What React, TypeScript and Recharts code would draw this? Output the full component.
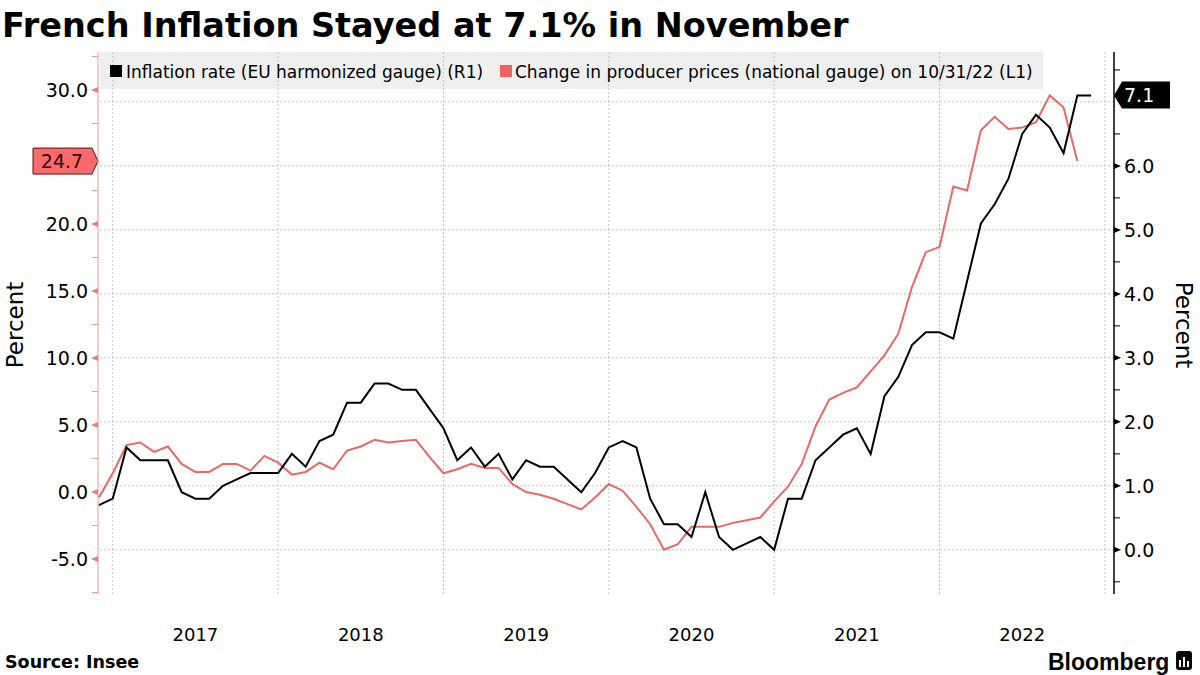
import React from "react";
import { LineChart, Line, XAxis, YAxis, ReferenceLine } from "recharts";

// monthly data, month-end points, Nov 2016 .. Nov 2022
const START_YEAR = 2016;
const START_MONTH = 11;

// EU harmonized inflation rate, % (right axis)
const inflation = [
  0.7, 0.8, 1.6, 1.4, 1.4, 1.4, 0.9, 0.8, 0.8, 1.0, 1.1, 1.2,
  1.2, 1.2, 1.5, 1.3, 1.7, 1.8, 2.3, 2.3, 2.6, 2.6, 2.5, 2.5,
  2.2, 1.9, 1.4, 1.6, 1.3, 1.5, 1.1, 1.4, 1.3, 1.3, 1.1, 0.9,
  1.2, 1.6, 1.7, 1.6, 0.8, 0.4, 0.4, 0.2, 0.9, 0.2, 0.0, 0.1,
  0.2, 0.0, 0.8, 0.8, 1.4, 1.6, 1.8, 1.9, 1.5, 2.4, 2.7, 3.2,
  3.4, 3.4, 3.3, 4.2, 5.1, 5.4, 5.8, 6.5, 6.8, 6.6, 6.2, 7.1,
  7.1,
];

// change in producer prices, % (left axis), last reading 10/31/22
const producer = [
  -0.4, 1.4, 3.5, 3.7, 3.0, 3.4, 2.1, 1.5, 1.5, 2.1, 2.1, 1.6,
  2.7, 2.2, 1.3, 1.5, 2.2, 1.7, 3.1, 3.4, 3.9, 3.7, 3.8, 3.9,
  2.6, 1.4, 1.7, 2.1, 1.8, 1.8, 0.6, 0.0, -0.2, -0.5, -0.9, -1.3,
  -0.4, 0.6, 0.1, -1.1, -2.4, -4.3, -3.9, -2.6, -2.6, -2.6, -2.3, -2.1,
  -1.9, -0.7, 0.4, 2.1, 4.9, 6.9, 7.4, 7.8, 9.0, 10.2, 11.8, 15.3,
  17.9, 18.3, 22.8, 22.5, 27.0, 28.0, 27.1, 27.2, 27.6, 29.6, 28.7, 24.7,
];

const years = [2017, 2018, 2019, 2020, 2021, 2022];
const leftTicks = [-7.5, -5, -2.5, 0, 2.5, 5, 7.5, 10, 12.5, 15, 17.5, 20, 22.5, 25, 27.5, 30, 32.5];
const rightTicks = [-0.5, 0, 0.5, 1, 1.5, 2, 2.5, 3, 3.5, 4, 4.5, 5, 5.5, 6, 6.5, 7, 7.5];
const rightGrid = [0, 1, 2, 3, 4, 5, 6, 7];

const lastProducer = producer[producer.length - 1];
const lastInflation = inflation[inflation.length - 1];

const monthIndex = (y: number, m: number) => (y - START_YEAR) * 12 + (m - START_MONTH);
const months = inflation.map((_, i) => {
  const t = START_MONTH - 1 + i;
  const y = START_YEAR + Math.floor(t / 12);
  const m = (t % 12) + 1;
  return `${y}-${String(m).padStart(2, "0")}`;
});

const data = months.map((month, i) => ({
  i,
  month,
  inflation: inflation[i],
  producer: i < producer.length ? producer[i] : null,
}));

const yearMid = years.map((y) => monthIndex(y, 6));
const yearEdges = [...years.map((y) => monthIndex(y - 1, 12)), monthIndex(2022, 12)];

const RED = "#e8686a";
const GRID = "#c4c4c4";
const FONT = "'DejaVu Sans', Verdana, sans-serif";

function LeftTick({ x, y, payload }: any) {
  const v = payload.value as number;
  const major = Math.abs(v % 5) < 1e-6;
  // the value badge hides whatever sits under it
  if (Math.abs(v - lastProducer) < 1.5) return <g />;
  if (!major) return <line x1={x - 6} x2={x} y1={y} y2={y} stroke="#eb9a9a" strokeWidth={1} />;
  return (
    <g>
      <polygon points={`${x},${y - 3} ${x},${y + 3} ${x - 7},${y}`} fill="#e87c7e" />
      <text x={x - 10} y={y} dy="0.36em" textAnchor="end" fontSize={19} fontFamily={FONT} fill="#000">
        {v.toFixed(1)}
      </text>
    </g>
  );
}

function RightTick({ x, y, payload }: any) {
  const v = payload.value as number;
  const major = Math.abs(v % 1) < 1e-6;
  if (major && Math.abs(v - lastInflation) < 0.3) return <g />;
  if (!major) return <line x1={x} x2={x + 6} y1={y} y2={y} stroke="#000" strokeWidth={1} />;
  return (
    <g>
      <polygon points={`${x},${y - 3} ${x},${y + 3} ${x + 7},${y}`} fill="#000" />
      <text x={x + 10} y={y} dy="0.36em" textAnchor="start" fontSize={19} fontFamily={FONT} fill="#000">
        {v.toFixed(1)}
      </text>
    </g>
  );
}

function YearTick({ x, y, payload }: any) {
  const idx = yearMid.indexOf(payload.value);
  return (
    <text x={x} y={y + 47} textAnchor="middle" fontSize={18} fontFamily={FONT} fill="#000">
      {years[idx]}
    </text>
  );
}

function LeftBadge(props: any) {
  const { x, y } = props.viewBox;
  return (
    <g>
      <polygon
        points={`${x - 65},${y - 13} ${x - 6},${y - 13} ${x},${y} ${x - 6},${y + 13} ${x - 65},${y + 13}`}
        fill="#fb6a6a"
        stroke="#5a1010"
        strokeWidth={1}
      />
      <text x={x - 36} y={y} dy="0.36em" textAnchor="middle" fontSize={19} fontFamily={FONT} fill="#2a0000">
        {lastProducer.toFixed(1)}
      </text>
    </g>
  );
}

function RightBadge(props: any) {
  const { x, y, width } = props.viewBox;
  const right = x + width;
  return (
    <g>
      <polygon
        points={`${right},${y} ${right + 8},${y - 14} ${right + 56},${y - 14} ${right + 56},${y + 13} ${right + 8},${y + 13}`}
        fill="#000"
      />
      <text x={right + 10} y={y} dy="0.36em" textAnchor="start" fontSize={19} fontFamily={FONT} fill="#fff">
        {lastInflation.toFixed(1)}
      </text>
    </g>
  );
}

export default function App() {
  return (
    <div style={{ position: "absolute", left: 0, top: 0, width: 1200, height: 675, background: "#fff", overflow: "hidden" }}>
      <svg width={1200} height={675} style={{ position: "absolute", left: 0, top: 0 }}>
        <rect x={100} y={52} width={943} height={37} fill="#efefef" />
      </svg>
      <div style={{ position: "absolute", left: 0, top: 0 }}>
        <LineChart width={1200} height={675} data={data} margin={{ top: 52, right: 0, bottom: 51, left: 0 }}>
          <XAxis
            dataKey="i"
            type="number"
            domain={[-0.07, 73.66]}
            allowDataOverflow
            ticks={yearMid}
            tick={<YearTick />}
            tickSize={0}
            tickMargin={0}
            tickLine={false}
            axisLine={false}
            height={30}
            interval={0}
          />
          <YAxis
            yAxisId="left"
            orientation="left"
            width={98}
            domain={[-7.61, 32.84]}
            allowDataOverflow
            ticks={leftTicks}
            interval={0}
            tick={<LeftTick />}
            tickSize={0}
            tickMargin={0}
            tickLine={false}
            axisLine={{ stroke: "#eb9a9a", strokeWidth: 1 }}
          />
          <YAxis
            yAxisId="right"
            orientation="right"
            width={86}
            domain={[-0.69, 7.78]}
            allowDataOverflow
            ticks={rightTicks}
            interval={0}
            tick={<RightTick />}
            tickSize={0}
            tickMargin={0}
            tickLine={false}
            axisLine={{ stroke: "#000", strokeWidth: 1.5 }}
          />
          {rightGrid.map((v) => (
            <ReferenceLine key={`h${v}`} yAxisId="right" y={v} stroke={GRID} strokeDasharray="2 2" />
          ))}
          {yearEdges.map((v) => (
            <ReferenceLine key={`v${v}`} yAxisId="right" x={v} stroke={GRID} strokeDasharray="2 2" />
          ))}
          <Line
            yAxisId="left"
            dataKey="producer"
            stroke={RED}
            strokeWidth={2}
            dot={false}
            isAnimationActive={false}
            connectNulls={false}
          />
          <Line
            yAxisId="right"
            dataKey="inflation"
            stroke="#000"
            strokeWidth={2}
            dot={false}
            isAnimationActive={false}
          />
          <ReferenceLine
            yAxisId="left"
            y={lastProducer}
            stroke="none"
            label={(p: any) => <LeftBadge {...p} />}
          />
          <ReferenceLine
            yAxisId="right"
            y={lastInflation}
            stroke="none"
            label={(p: any) => <RightBadge {...p} />}
          />
        </LineChart>
      </div>
      <svg width={1200} height={675} style={{ position: "absolute", left: 0, top: 0, pointerEvents: "none" }}>
        <text x={2} y={37} fontSize={33.5} fontWeight="bold" fontFamily={FONT} fill="#000">
          French Inflation Stayed at 7.1% in November
        </text>
        <rect x={110} y={65} width={12} height={12} fill="#000" />
        <text x={126} y={78} fontSize={17} fontFamily={FONT} fill="#000">
          Inflation rate (EU harmonized gauge) (R1)
        </text>
        <rect x={500} y={65} width={12} height={12} fill="#f06262" />
        <text x={515} y={78} fontSize={17} fontFamily={FONT} fill="#000">
          Change in producer prices (national gauge) on 10/31/22 (L1)
        </text>
        <text transform="translate(23,325) rotate(-90)" textAnchor="middle" fontSize={23} fontFamily={FONT} fill="#000">
          Percent
        </text>
        <text transform="translate(1176,325) rotate(90)" textAnchor="middle" fontSize={23} fontFamily={FONT} fill="#000">
          Percent
        </text>
        <text x={5} y={668} fontSize={17.5} fontWeight="bold" fontFamily={FONT} fill="#000">
          Source: Insee
        </text>
        <text x={1048} y={670} fontSize={23} fontWeight="bold" fontFamily="'Liberation Sans', Arial, sans-serif" fill="#000">
          Bloomberg
        </text>
        <rect x={1176} y={651} width={16} height={19} rx={3} fill="#000" />
        <rect x={1179} y={660} width={2} height={7} fill="#fff" />
        <rect x={1183} y={657} width={2} height={10} fill="#fff" />
        <rect x={1187} y={661} width={2} height={6} fill="#fff" />
      </svg>
    </div>
  );
}
